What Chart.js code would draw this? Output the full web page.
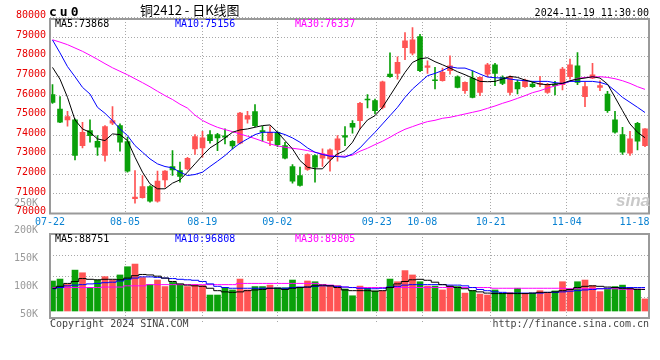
<!DOCTYPE html>
<html><head><meta charset="utf-8">
<script src="https://cdn.jsdelivr.net/npm/chart.js@4.4.1/dist/chart.umd.min.js"></script>
<style>
html,body{margin:0;padding:0;background:#fff;}
#wrap{position:relative;width:660px;height:360px;overflow:hidden;background:#fff;}
canvas{position:absolute;left:0;}
#c1{top:0;width:660px;height:232px;}
#c2{top:190px;width:660px;height:170px;}
</style></head><body>
<div id="wrap">
<canvas id="c1" width="660" height="232"></canvas>
<canvas id="c2" width="660" height="170"></canvas>
</div>
<script>
// ---------- data ----------
const tickLabels = ['07-22','08-05','08-19','09-02','09-23','10-08','10-21','11-04','11-18'];
const priceTicks = [70000,71000,72000,73000,74000,75000,76000,77000,78000,79000,80000];
const volTicks = [50,100,150,200,250]; // K

const openP = [76066,75336,74776,74776,73468,74232,73689,72959,74606,74487,
73672,70751,70802,71380,70632,71719,72398,72195,72279,73298,
73349,74029,74029,73961,73689,73587,74810,75200,74232,73723,
74147,73468,72398,71940,72246,72959,72823,72789,73247,73978,
74606,74742,75845,75760,75421,77119,77153,78470,78185,79030,
77458,76830,76779,77289,76983,76270,76915,76185,77119,77594,
76949,76185,76694,76474,76609,76609,76185,76609,76576,76983,
77543,75964,76915,76440,76100,74776,74029,73078,74606,73468];
const highP = [76576,75964,75217,74827,74657,74776,73978,74487,75455,74572,
73893,72195,71940,71430,72161,72195,73214,72619,72874,74029,
74198,74232,74096,74317,73723,75166,75217,75557,74453,74436,
74181,73638,72500,72364,73044,72993,73298,73298,73978,74436,
74742,75676,76066,75845,76760,78200,78000,79234,79490,79150,
77800,77458,77424,78047,77034,76728,77289,76983,77662,77662,
77034,77034,76813,76864,76728,77000,76643,76745,77458,77880,
78215,76694,77662,76779,76236,75217,74402,74198,74657,74340];
const lowP = [75625,74640,74453,72738,73349,73638,72959,72670,74538,73180,
72110,70530,70785,70581,70581,71346,71940,71600,72228,73010,
72874,73587,73214,73553,73298,73553,74606,74436,73689,73468,
73417,72789,71549,71400,72195,71600,72398,72161,72670,73468,
74096,74317,75387,75081,75336,76950,76864,77850,78100,77238,
77153,76355,76750,77119,76406,76134,75896,76015,76983,76525,
76576,76049,76100,76440,76440,76474,76134,76049,76304,76864,
76576,75455,76880,76270,75166,74096,73010,72959,73247,73417];
const closeP = [75676,74657,74945,72959,74147,73978,73383,74436,74742,73638,
72161,70836,71380,70632,71651,72161,72228,71889,72823,73927,
73859,73723,73859,73893,73451,75132,74996,74487,74147,74147,
73519,72823,71651,71431,73010,72364,73044,73247,73808,73893,
74402,75625,75794,75251,76728,76983,77713,78811,78862,77289,
77543,76779,77204,77543,76440,76694,75930,76949,77594,77153,
76643,76983,76355,76813,76474,76643,76576,76525,77374,77594,
76694,76474,77085,76525,75251,74147,73129,73808,73689,74317];

const ma5 = [77460,76860,75930,74776,74317,74147,73808,73723,74062,74029,
73723,72874,72110,71515,71261,71261,71549,71719,72110,72534,
72959,73349,73587,73859,74147,74266,74317,74402,74487,74521,
74147,73723,73298,72704,72364,72280,72280,72704,73044,73214,
73638,74317,74776,74996,75421,76015,76610,77204,77713,77900,
77950,77750,77594,77424,77238,77085,76915,76745,76728,76745,
76864,77000,76949,76813,76711,76609,76576,76609,76643,76779,
76864,76915,76983,76915,76609,75930,75251,74572,74147,73868];
const ma10 = [78860,78200,77500,76983,76440,76100,75421,75115,74742,74317,
73978,73468,73128,72789,72534,72398,72330,72110,71940,71991,
72110,72398,72670,72959,73298,73587,73808,74029,74147,74147,
74147,74029,73859,73638,73349,73128,73010,72925,72908,72874,
73044,73349,73757,74147,74572,74996,75421,75930,76355,76694,
77034,77153,77300,77492,77424,77424,77289,77119,76966,76932,
76915,76864,76813,76779,76745,76745,76745,76677,76643,76745,
76745,76745,76745,76694,76576,76270,75930,75676,75421,75156];
const ma30 = [78870,78750,78620,78450,78280,78080,77870,77650,77440,77260,
77080,76880,76680,76470,76240,76020,75820,75580,75380,75020,
74750,74560,74400,74283,74181,74062,73944,73825,73689,73553,
73451,73383,73332,73281,73213,73128,73044,72959,72925,72925,
72976,73180,73332,73519,73689,73893,74113,74300,74436,74572,
74691,74759,74861,74912,74996,75081,75166,75251,75370,75489,
75625,75743,75879,76015,76168,76270,76406,76508,76609,76745,
76898,76949,76966,76983,76949,76881,76779,76643,76474,76337];

const volume = [124,132,110,169,158,96,128,142,128,149,
183,194,138,110,128,101,118,110,101,110,
105,66,66,96,87,132,87,101,101,107,
96,96,128,96,124,121,105,105,105,91,
63,103,94,83,83,132,121,167,149,121,
103,103,87,103,101,74,84,70,66,87,
73,76,94,73,73,84,73,83,121,91,
121,128,105,80,91,101,107,94,91,50];
const volMa5 = [94,102,114,122,134,131,129,131,131,129,
136,146,151,149,144,136,122,112,107,104,
102,94,84,79,77,79,84,87,89,94,
94,89,94,97,99,104,107,104,97,87,
84,84,84,82,84,97,112,122,129,131,
127,119,109,102,97,92,84,79,74,72,
72,72,72,72,74,77,77,79,84,89,
97,102,104,102,99,97,94,92,89,89];
const volMa10 = [92,97,104,107,109,112,114,117,119,124,
131,136,141,141,139,136,134,131,129,127,
122,112,102,97,94,94,94,94,94,94,
94,94,97,99,99,102,104,104,102,99,
97,94,92,92,94,99,102,107,109,109,
109,109,109,107,107,104,97,89,84,79,
77,74,74,74,74,74,77,77,79,82,
84,87,89,92,94,97,97,97,97,97];
const volMa30 = [97,97,97,97,97,97,97,99,99,99,
104,104,104,109,109,109,109,109,109,109,
109,109,109,109,109,114,114,114,114,114,
114,114,114,114,114,114,109,107,102,99,
97,97,97,97,97,97,97,97,97,97,
97,97,97,97,97,97,97,97,97,94,
94,94,94,94,94,94,94,94,94,92,
92,92,92,92,92,92,90,90,90,90];

const legendMain = [73868, 75156, 76337];
const legendVol = [88751, 96808, 89805];

// ---------- styles / layout ----------
const RED = '#ff5454', GREEN = '#0aa00a';
const GRID = '#a8a8a8';
const MONO = '"DejaVu Sans Mono", monospace';
const tickAt = [-0.333, 9.667, 19.973, 29.973, 43.227, 49.307, 58.427, 68.56, 77.6];
const X_MIN = -0.3333, X_MAX = 79.5333;

const candleColors = openP.map((o, i) => closeP[i] >= o ? RED : GREEN);
const pts = arr => arr.map((v, i) => ({x: i, y: v}));

const framePlugin = {
  id: 'frame',
  afterDraw(chart) {
    const {ctx, chartArea: a} = chart;
    ctx.save();
    ctx.strokeStyle = '#9a9a9a';
    ctx.lineWidth = 2;
    ctx.strokeRect(a.left, a.top, a.right - a.left, a.bottom - a.top);
    ctx.restore();
  }
};
const textPlugin = {
  id: 'texts',
  afterDraw(chart, args, opts) {
    const ctx = chart.ctx;
    (opts.items || []).forEach(t => {
      ctx.save();
      ctx.font = t.font || ('10px ' + MONO);
      ctx.fillStyle = t.color || '#000';
      ctx.textAlign = t.align || 'left';
      ctx.textBaseline = 'alphabetic';
      if ('letterSpacing' in ctx) ctx.letterSpacing = t.ls || '0px';
      ctx.fillText(t.text, t.x, t.y);
      ctx.restore();
    });
  }
};

const xGridColor = ctx => (ctx.index === tickAt.length - 1) ? 'rgba(0,0,0,0)' : GRID;

// ---------- price chart ----------
new Chart(document.getElementById('c1'), {
  type: 'bar',
  data: {datasets: [
    {type: 'line', label: 'MA5', data: pts(ma5), borderColor: '#000', borderWidth: 1, pointRadius: 0, order: 0},
    {type: 'line', label: 'MA10', data: pts(ma10), borderColor: '#0000ff', borderWidth: 1, pointRadius: 0, order: 0},
    {type: 'line', label: 'MA30', data: pts(ma30), borderColor: '#ff00ff', borderWidth: 1, pointRadius: 0, order: 0},
    {label: 'body', data: openP.map((o, i) => ({x: i, y: [o, closeP[i]]})), backgroundColor: candleColors,
     barThickness: 5, grouped: false, order: 2},
    {label: 'wick', data: lowP.map((l, i) => ({x: i, y: [l, highP[i]]})), backgroundColor: candleColors,
     barThickness: 1, grouped: false, order: 3}
  ]},
  plugins: [framePlugin, textPlugin],
  options: {
    responsive: false, animation: false, devicePixelRatio: 1,
    layout: {padding: {top: 19, right: 11, bottom: 0.5, left: 0}},
    plugins: {
      legend: {display: false}, tooltip: {enabled: false},
      texts: {items: [
        {text: 'cu0', x: 49, y: 16, font: 'bold 13px ' + MONO, color: '#000', ls: '3px'},
        {text: '铜2412 - 日K线图', x: 140, y: 15, font: '13px "Noto Sans CJK SC"', color: '#000'},
        {text: '2024-11-19 11:30:00', x: 649, y: 16, color: '#000', align: 'right'},
        {text: 'MA5:' + legendMain[0], x: 55, y: 27, color: '#000'},
        {text: 'MA10:' + legendMain[1], x: 175, y: 27, color: '#0000ff'},
        {text: 'MA30:' + legendMain[2], x: 295, y: 27, color: '#ff00ff'},
        {text: 'sina', x: 616, y: 206, font: 'italic bold 17px "Liberation Sans"', color: '#c9c9c9'}
      ]}
    },
    scales: {
      x: {
        type: 'linear', min: X_MIN, max: X_MAX, offset: false,
        grid: {offset: false, drawTicks: false, color: xGridColor, lineWidth: 1},
        border: {display: false, dash: [1, 2]},
        ticks: {autoSkip: false, maxRotation: 0, padding: 3, color: '#0a82d2',
                font: {family: MONO, size: 10}, callback: (v, i) => tickLabels[i]},
        afterBuildTicks: s => { s.ticks = tickAt.map(v => ({value: v})); },
        afterFit: s => { s.height = 18; }
      },
      y: {
        min: 70000, max: 79930,
        grid: {drawTicks: false, color: GRID, lineWidth: 1},
        border: {display: false, dash: [1, 2]},
        ticks: {color: '#e80000', padding: 4, labelOffset: -2, autoSkip: false,
                font: {family: MONO, size: 10}, callback: v => String(v)},
        afterBuildTicks: s => { s.ticks = priceTicks.map(v => ({value: v})); },
        afterFit: s => { s.width = 50; }
      }
    }
  }
});

// ---------- volume chart ----------
new Chart(document.getElementById('c2'), {
  type: 'bar',
  data: {datasets: [
    {type: 'line', label: 'VMA5', data: pts(volMa5), yAxisID: 'vol', borderColor: '#000', borderWidth: 1, pointRadius: 0, stepped: 'middle', order: 0},
    {type: 'line', label: 'VMA10', data: pts(volMa10), yAxisID: 'vol', borderColor: '#0000ff', borderWidth: 1, pointRadius: 0, stepped: 'middle', order: 0},
    {type: 'line', label: 'VMA30', data: pts(volMa30), yAxisID: 'vol', borderColor: '#ff00ff', borderWidth: 1, pointRadius: 0, stepped: 'middle', order: 0},
    {label: 'volume', data: pts(volume), yAxisID: 'vol', backgroundColor: candleColors,
     barThickness: 6, grouped: false, order: 1}
  ]},
  plugins: [framePlugin, textPlugin],
  options: {
    responsive: false, animation: false, devicePixelRatio: 1,
    layout: {padding: {top: 44, right: 11, bottom: 42, left: 0}},
    plugins: {
      legend: {display: false}, tooltip: {enabled: false},
      texts: {items: [
        {text: 'MA5:' + legendVol[0], x: 55, y: 52, color: '#000'},
        {text: 'MA10:' + legendVol[1], x: 175, y: 52, color: '#0000ff'},
        {text: 'MA30:' + legendVol[2], x: 295, y: 52, color: '#ff00ff'},
        {text: 'Copyright 2024 SINA.COM', x: 50, y: 137, color: '#444'},
        {text: 'http://finance.sina.com.cn', x: 649, y: 137, color: '#444', align: 'right'}
      ]}
    },
    scales: {
      x: {
        type: 'linear', min: X_MIN, max: X_MAX, offset: false,
        grid: {offset: false, drawTicks: true, tickLength: 5, color: xGridColor, tickColor: xGridColor,
               tickBorderDash: [1, 2], lineWidth: 1},
        border: {display: false, dash: [1, 2]},
        ticks: {display: false},
        afterBuildTicks: s => { s.ticks = tickAt.map(v => ({value: v})); },
        afterFit: s => { s.height = 0; }
      },
      vl: {
        position: 'left', min: 43.9, max: 194.4,
        grid: {display: false},
        border: {display: false},
        ticks: {color: '#9a9a9a', padding: 4, autoSkip: false,
                font: {family: MONO, size: 10}, callback: v => v + 'K'},
        afterBuildTicks: s => { s.ticks = volTicks.map(v => ({value: v})); },
        afterFit: s => { s.width = 50; }
      },
      vol: {
        position: 'right', min: -28.9, max: 318.2,
        grid: {drawTicks: false, color: GRID, lineWidth: 1},
        border: {display: false, dash: [1, 2]},
        ticks: {display: false},
        afterBuildTicks: s => {
          const step = (s.max - s.min) / 4;
          s.ticks = [1, 2, 3].map(k => ({value: s.min + k * step}));
        },
        afterFit: s => { s.width = 0; }
      }
    }
  }
});
</script>
</body></html>
